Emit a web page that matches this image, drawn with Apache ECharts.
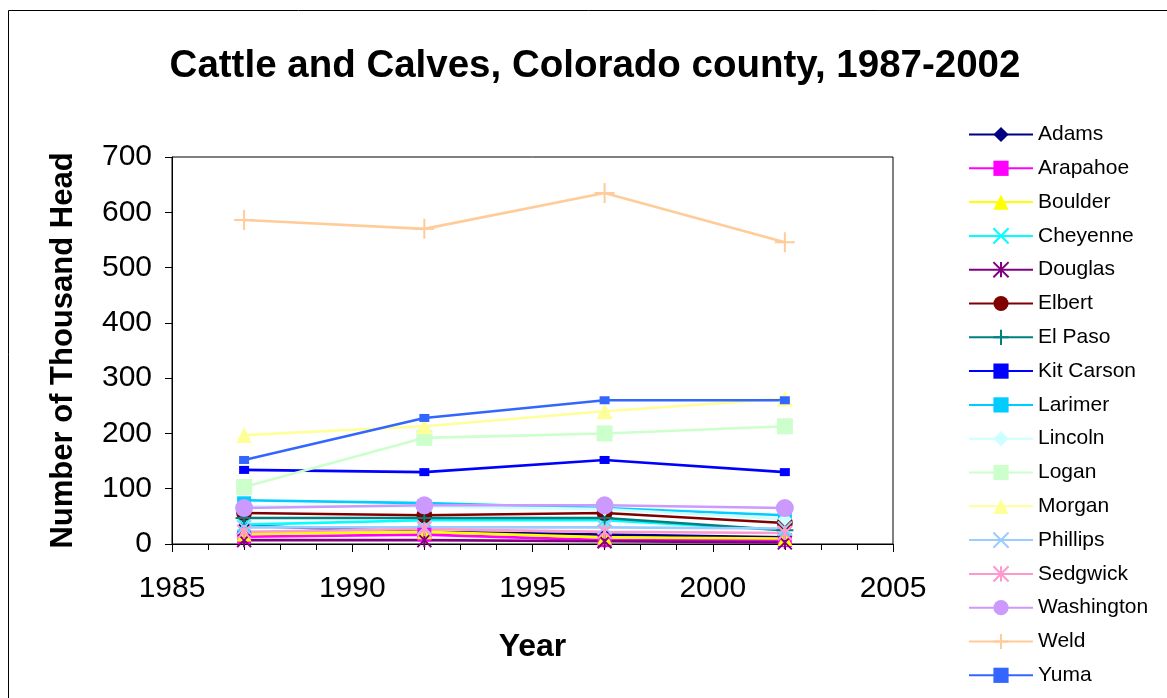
<!DOCTYPE html>
<html><head><meta charset="utf-8">
<script src="https://cdn.jsdelivr.net/npm/echarts@6/dist/echarts.min.js"></script>
<style>html,body{margin:0;padding:0;background:#fff}#c{width:1167px;height:698px}</style>
</head><body><div id="c"></div>
<script>
const years = [1987, 1992, 1997, 2002];
const counties = ["Adams","Arapahoe","Boulder","Cheyenne","Douglas","Elbert","El Paso","Kit Carson","Larimer","Lincoln","Logan","Morgan","Phillips","Sedgwick","Washington","Weld","Yuma"];
const adams      = [33, 22, 17, 12];
const arapahoe   = [13, 17, 7, 7];
const boulder    = [18, 22, 12, 10];
const cheyenne   = [35, 43, 43, 25];
const douglas    = [7, 7, 5, 3];
const elbert     = [56, 52, 56, 38];
const elPaso     = [47, 47, 47, 25];
const kitCarson  = [134, 130, 152, 130];
const larimer    = [79, 74, 65, 52];
const lincoln    = [68, 68, 63, 45];
const logan      = [103, 192, 200, 213];
const morgan     = [197, 213, 240, 263];
const phillips   = [30, 30, 30, 28];
const sedgwick   = [22, 27, 22, 20];
const washington = [65, 70, 70, 65];
const weld       = [586, 570, 635, 546];
const yuma       = [152, 228, 260, 260];
const values = [adams, arapahoe, boulder, cheyenne, douglas, elbert, elPaso, kitCarson, larimer, lincoln, logan, morgan, phillips, sedgwick, washington, weld, yuma];

const colors = ["#000080","#FF00FF","#FFFF00","#00FFFF","#800080","#800000","#008080","#0000FF","#00CCFF","#CCFFFF","#CCFFCC","#FFFF99","#99CCFF","#FF99CC","#CC99FF","#FFCC99","#3366FF"];
const X = 'path://M0,0L10,10M10,0L0,10';
const AST = 'path://M0,0L10,10M10,0L0,10M5,0L5,10';
const PLUS = 'path://M5,0L5,10M0,5L10,5';
const symbols = [
  ['diamond',13,false],['rect',14,false],['triangle',15,false],[X,13,true],[AST,14,true],['circle',16,false],[PLUS,17,true],
  ['rect',[10,8],false],['rect',[14,8],false],['diamond',14,false],['rect',16,false],['triangle',16,false],[X,14,true],[AST,14,true],
  ['circle',18,false],[PLUS,20,true],['rect',[10,8],false]
];

const series = counties.map((name, i) => {
  const [sym, size, stroke] = symbols[i];
  return {
    name, type: 'line',
    data: years.map((y, j) => [y, values[i][j]]),
    symbol: sym, symbolSize: size,
    showAllSymbol: true,
    lineStyle: {color: colors[i], width: 2.6},
    itemStyle: stroke ? {color: colors[i], borderColor: colors[i], borderWidth: 2} : {color: colors[i], borderWidth: 0},
    emphasis: {disabled: true},
    animation: false
  };
});

const FONT = 'Liberation Sans, Arial, sans-serif';
const chart = echarts.init(document.getElementById('c'));
chart.setOption({
  animation: false,
  backgroundColor: '#fff',
  color: colors,
  title: {
    text: 'Cattle and Calves, Colorado county, 1987-2002',
    left: 590, top: 42, textAlign: 'center',
    textStyle: {fontFamily: FONT, fontWeight: 'bold', fontSize: 38.5, color: '#000'}
  },
  graphic: [{type: 'rect', shape: {x: 8.5, y: 10.5, width: 1200, height: 720}, style: {fill: 'none', stroke: '#000', lineWidth: 1}, silent: true}],
  legend: {
    orient: 'vertical', left: 968, top: 124, height: 600, padding: 0,
    itemWidth: 64, itemHeight: 19, itemGap: 12.8,
    textStyle: {fontFamily: FONT, fontSize: 21, color: '#000'},
    data: counties
  },
  grid: {left: 172, top: 157, width: 721, height: 387, show: true, borderColor: '#000', borderWidth: 1, backgroundColor: '#fff'},
  xAxis: {
    type: 'value', min: 1985, max: 2005, interval: 5,
    name: 'Year', nameLocation: 'middle', nameGap: 87,
    nameTextStyle: {fontFamily: FONT, fontWeight: 'bold', fontSize: 32, color: '#000'},
    axisLine: {show: true, lineStyle: {color: '#000', width: 1}},
    axisTick: {show: true, inside: false, length: 8, lineStyle: {color: '#000'}},
    minorTick: {show: true, splitNumber: 5, length: 6, lineStyle: {color: '#000'}},
    splitLine: {show: false},
    axisLabel: {fontFamily: FONT, fontSize: 30, color: '#000', margin: 30, formatter: v => String(v)}
  },
  yAxis: {
    type: 'value', min: 0, max: 700, interval: 100,
    name: 'Number of Thousand Head', nameLocation: 'middle', nameGap: 93,
    nameTextStyle: {fontFamily: FONT, fontWeight: 'bold', fontSize: 31, color: '#000'},
    axisLine: {show: true, lineStyle: {color: '#000', width: 1}},
    axisTick: {show: true, inside: false, length: 7, lineStyle: {color: '#000'}},
    minorTick: {show: false},
    splitLine: {show: false},
    axisLabel: {fontFamily: FONT, fontSize: 30, color: '#000', margin: 20}
  },
  series
});
</script></body></html>
